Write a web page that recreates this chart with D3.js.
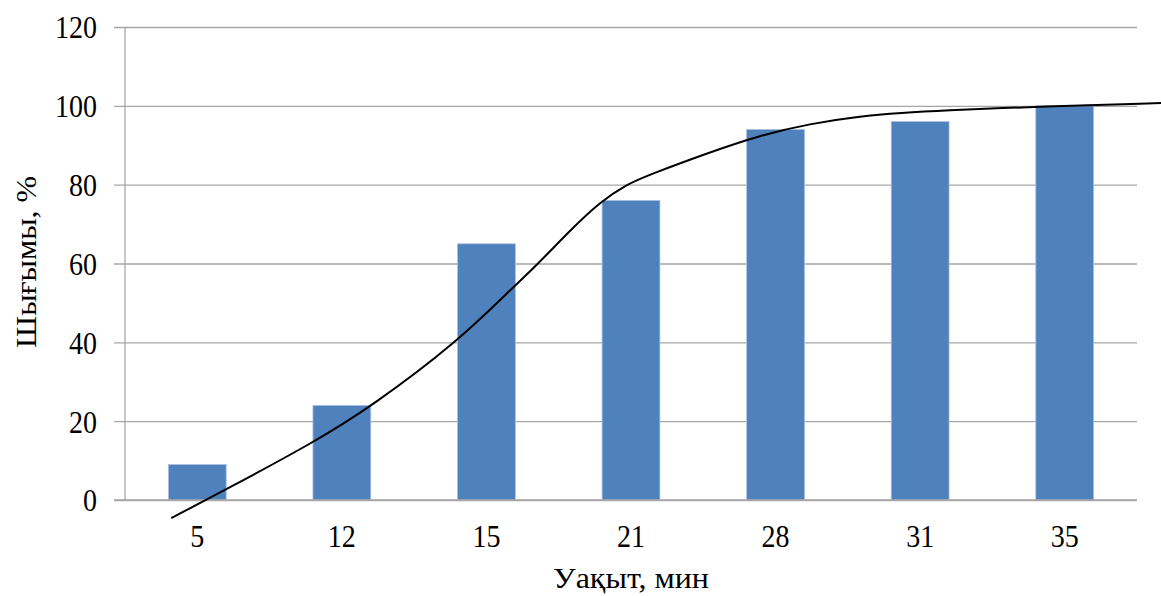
<!DOCTYPE html>
<html>
<head>
<meta charset="utf-8">
<script src="https://cdn.jsdelivr.net/npm/d3@7"></script>
<style>
  html, body { margin: 0; padding: 0; background: #fff; }
  svg { display: block; }
  text { font-family: "Liberation Serif", "Times New Roman", serif; fill: #000; }
</style>
</head>
<body>
<svg id="chart" width="1161" height="596"></svg>
<script>
// Sample times (min) and yield (%)
const categories = ["5", "12", "15", "21", "28", "31", "35"];
const yieldValues = [9, 24, 65, 76, 94, 96, 100];
const yTicks = [0, 20, 40, 60, 80, 100, 120];

// Smoothed trend curve, in category-index units (0 = first category centre) and %
const trendPos = [-0.18, 0.19, 0.8, 1.2, 1.8, 2.175, 2.336, 2.578, 2.786, 2.97, 3.131, 3.55, 3.89, 4.24, 4.58, 4.86, 5.21, 5.55, 5.76, 6.67];
const trendVal = [-4.6, 2.5, 14.5, 23.6, 40.1, 53.7, 59.1, 68.4, 75.6, 80.1, 82.6, 88.3, 92.5, 95.5, 97.3, 98.2, 98.9, 99.4, 99.7, 100.7];

const svg = d3.select("#chart");
const plot = { left: 125, right: 1137, top: 27, bottom: 500 };
const gridColor = "#a6a6a6";
const digitWidth = 14;

const x = d3.scaleBand()
  .domain(categories)
  .range([plot.left, plot.right])
  .paddingInner(0.6)
  .paddingOuter(0.3);

// continuous position along the category axis
const xPos = d3.scaleLinear()
  .domain([-0.5, categories.length - 0.5])
  .range([plot.left, plot.right]);

const y = d3.scaleLinear()
  .domain([0, 120])
  .range([plot.bottom, plot.top]);

// horizontal gridlines with short ticks to the left of the axis
const yAxis = d3.axisLeft(y)
  .tickValues(yTicks)
  .tickFormat(d3.format("d"));

const gy = svg.append("g")
  .attr("transform", `translate(${plot.left},0)`)
  .call(yAxis);
gy.select(".domain").remove();
gy.selectAll(".tick line")
  .attr("x1", -11)
  .attr("x2", plot.right - plot.left)
  .attr("stroke", gridColor)
  .attr("stroke-width", 1.3);
gy.selectAll(".tick text")
  .attr("x", -28)
  .attr("dy", "0.35em")
  .attr("textLength", d => String(d).length * digitWidth)
  .attr("lengthAdjust", "spacingAndGlyphs")
  .style("font-size", "31px")
  .style("font-family", "'Liberation Serif', serif")
  .attr("fill", "#000");

// vertical axis line
svg.append("line")
  .attr("x1", plot.left).attr("x2", plot.left)
  .attr("y1", plot.top).attr("y2", plot.bottom)
  .attr("stroke", gridColor)
  .attr("stroke-width", 1.3);

// bars
svg.append("g")
  .selectAll("rect")
  .data(yieldValues)
  .join("rect")
  .attr("x", (d, i) => x(categories[i]))
  .attr("width", x.bandwidth())
  .attr("y", d => y(d))
  .attr("height", d => y(0) - y(d))
  .attr("fill", "#4f81bd")
  .attr("stroke", "#a9c1e0")
  .attr("stroke-width", 0.8);

// baseline over bars
svg.append("line")
  .attr("x1", plot.left - 11).attr("x2", plot.right)
  .attr("y1", y(0)).attr("y2", y(0))
  .attr("stroke", gridColor)
  .attr("stroke-width", 1.3);

// x axis labels
const xAxis = d3.axisBottom(x).tickSize(0).tickPadding(25);
const gx = svg.append("g")
  .attr("transform", `translate(0,${plot.bottom})`)
  .call(xAxis);
gx.select(".domain").remove();
gx.selectAll(".tick text")
  .attr("textLength", d => d.length * digitWidth)
  .attr("lengthAdjust", "spacingAndGlyphs")
  .style("font-size", "31px")
  .style("font-family", "'Liberation Serif', serif")
  .attr("fill", "#000");

// trend curve
const trendData = trendPos.map((p, i) => [p, trendVal[i]]);
svg.append("path")
  .datum(trendData)
  .attr("fill", "none")
  .attr("stroke", "#000")
  .attr("stroke-width", 2)
  .attr("d", d3.line()
    .x(d => xPos(d[0]))
    .y(d => y(d[1]))
    .curve(d3.curveBasis));

// axis titles
svg.append("text")
  .attr("x", 631)
  .attr("y", 588)
  .attr("text-anchor", "middle")
  .attr("textLength", 156)
  .attr("lengthAdjust", "spacingAndGlyphs")
  .style("font-size", "29px")
  .text("Уақыт, мин");

svg.append("text")
  .attr("transform", "translate(36,262) rotate(-90)")
  .attr("text-anchor", "middle")
  .attr("textLength", 172)
  .attr("lengthAdjust", "spacingAndGlyphs")
  .style("font-size", "29px")
  .text("Шығымы, %");
</script>
</body>
</html>
